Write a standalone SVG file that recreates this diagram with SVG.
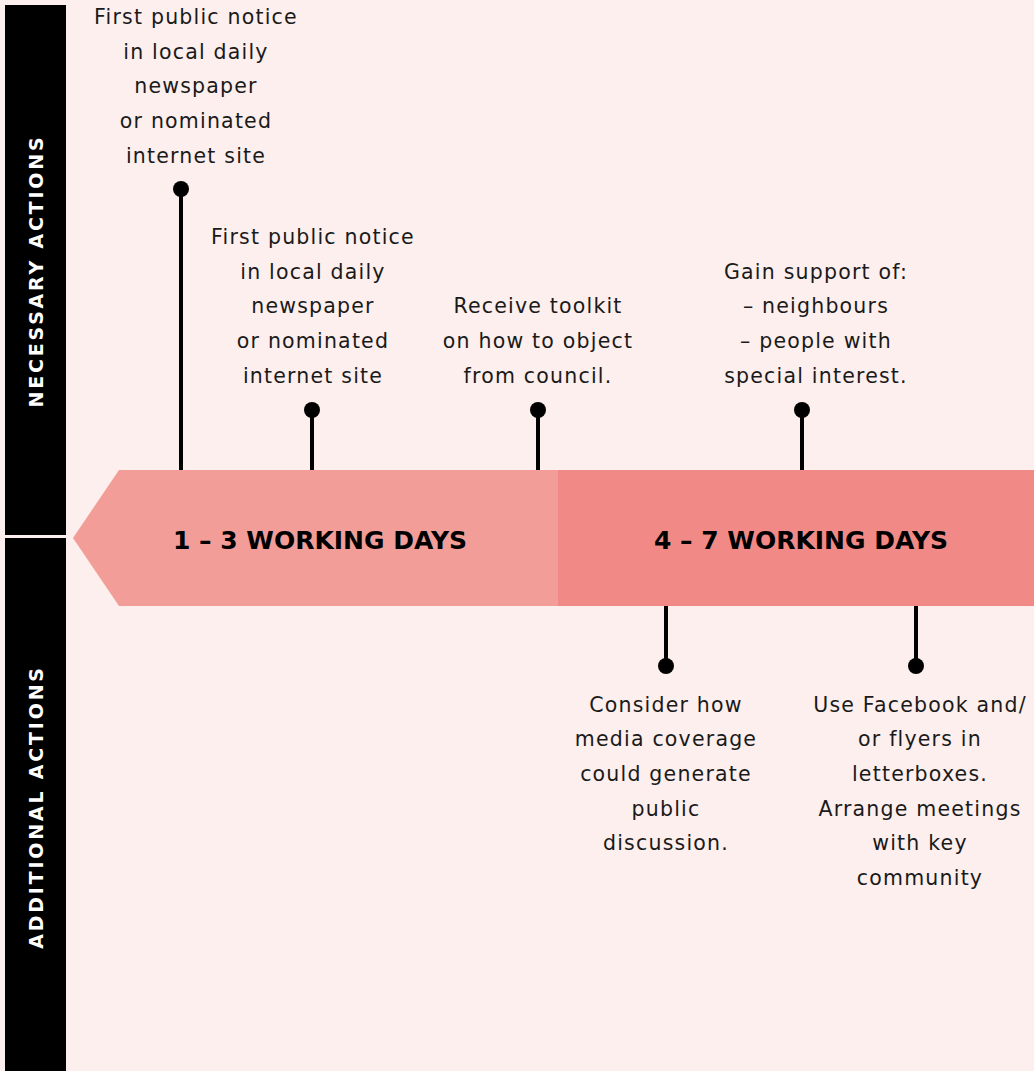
<svg xmlns="http://www.w3.org/2000/svg" width="1034" height="1071" viewBox="0 0 1034 1071">
<style>
.lbl{font-family:"DejaVu Sans","Liberation Sans",sans-serif;font-size:20.5px;letter-spacing:1.2px;fill:#1a1a1a;text-anchor:middle}
.side{font-family:"DejaVu Sans","Liberation Sans",sans-serif;font-size:19px;font-weight:bold;letter-spacing:2.8px;fill:#fff;text-anchor:middle}
.band{font-family:"DejaVu Sans","Liberation Sans",sans-serif;font-size:25px;font-weight:bold;fill:#000;text-anchor:middle}
.stem{stroke:#000;stroke-width:4;fill:none}
.dot{fill:#000}
</style>
<rect x="0" y="0" width="1034" height="1071" fill="#fdefed"/>
<g id="side-bars">
<rect x="5" y="5" width="61" height="530" fill="#000"/>
<rect x="5" y="538" width="61" height="533" fill="#000"/>
<text class="side" transform="translate(43,271) rotate(-90)">NECESSARY ACTIONS</text>
<text class="side" transform="translate(43,807) rotate(-90)">ADDITIONAL ACTIONS</text>
</g>
<g id="band-1-3">
<polygon points="73,538 119,470 558,470 558,606 119,606" fill="#f29d97"/>
<text class="band" x="320" y="549">1 – 3 WORKING DAYS</text>
</g>
<g id="band-4-7">
<rect x="558" y="470" width="476" height="136" fill="#f18a87"/>
<text class="band" x="801" y="549">4 – 7 WORKING DAYS</text>
</g>
<g id="connectors">
<line class="stem" x1="181" y1="189" x2="181" y2="470"/><circle class="dot" cx="181" cy="189" r="8"/>
<line class="stem" x1="312" y1="410" x2="312" y2="470"/><circle class="dot" cx="312" cy="410" r="8"/>
<line class="stem" x1="538" y1="410" x2="538" y2="470"/><circle class="dot" cx="538" cy="410" r="8"/>
<line class="stem" x1="802" y1="410" x2="802" y2="470"/><circle class="dot" cx="802" cy="410" r="8"/>
<line class="stem" x1="666" y1="606" x2="666" y2="666"/><circle class="dot" cx="666" cy="666" r="8"/>
<line class="stem" x1="916" y1="606" x2="916" y2="666"/><circle class="dot" cx="916" cy="666" r="8"/>
</g>
<g id="note-1">
<text class="lbl" x="196" y="24">First public notice</text>
<text class="lbl" x="196" y="59">in local daily</text>
<text class="lbl" x="196" y="93">newspaper</text>
<text class="lbl" x="196" y="128">or nominated</text>
<text class="lbl" x="196" y="163">internet site</text>
</g>
<g id="note-2">
<text class="lbl" x="313" y="244">First public notice</text>
<text class="lbl" x="313" y="279">in local daily</text>
<text class="lbl" x="313" y="313">newspaper</text>
<text class="lbl" x="313" y="348">or nominated</text>
<text class="lbl" x="313" y="383">internet site</text>
</g>
<g id="note-3">
<text class="lbl" x="538" y="313">Receive toolkit</text>
<text class="lbl" x="538" y="348">on how to object</text>
<text class="lbl" x="538" y="383">from council.</text>
</g>
<g id="note-4">
<text class="lbl" x="816" y="279">Gain support of:</text>
<text class="lbl" x="816" y="313">– neighbours</text>
<text class="lbl" x="816" y="348">– people with</text>
<text class="lbl" x="816" y="383">special interest.</text>
</g>
<g id="note-5">
<text class="lbl" x="666" y="712">Consider how</text>
<text class="lbl" x="666" y="746">media coverage</text>
<text class="lbl" x="666" y="781">could generate</text>
<text class="lbl" x="666" y="816">public</text>
<text class="lbl" x="666" y="850">discussion.</text>
</g>
<g id="note-6">
<text class="lbl" x="920" y="712">Use Facebook and/</text>
<text class="lbl" x="920" y="746">or flyers in</text>
<text class="lbl" x="920" y="781">letterboxes.</text>
<text class="lbl" x="920" y="816">Arrange meetings</text>
<text class="lbl" x="920" y="850">with key</text>
<text class="lbl" x="920" y="885">community</text>
</g>
</svg>
